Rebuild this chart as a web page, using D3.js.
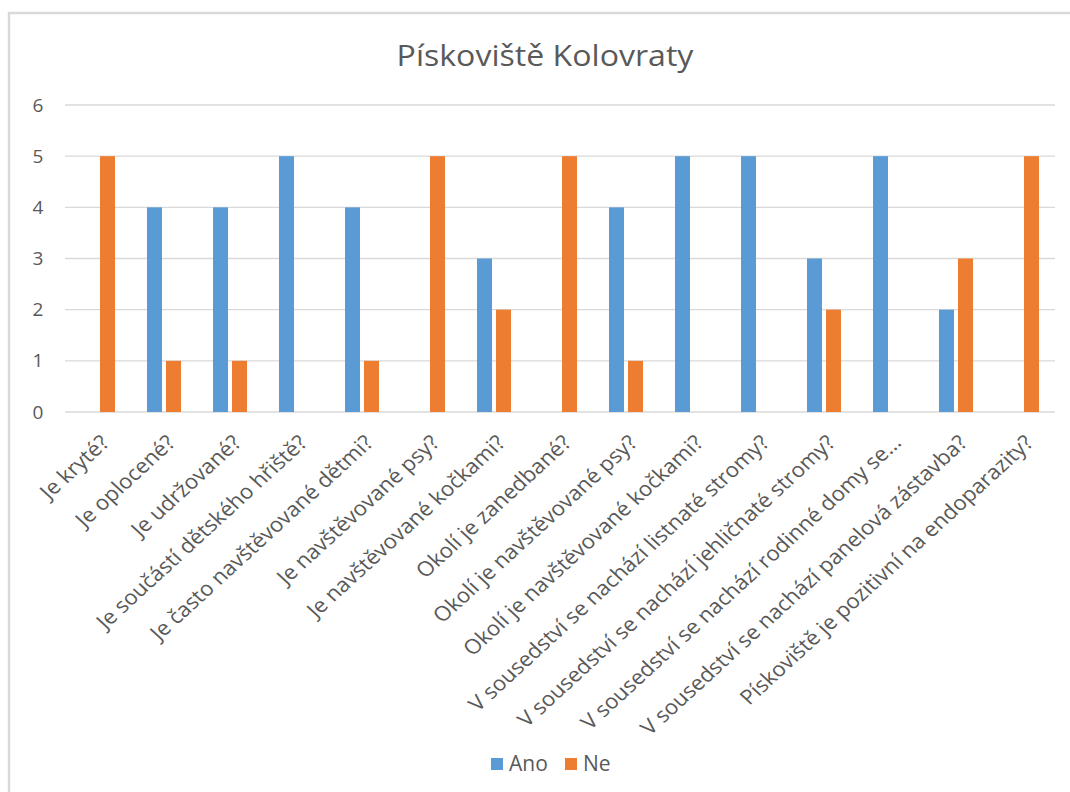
<!DOCTYPE html>
<html><head><meta charset="utf-8">
<script src="https://cdn.jsdelivr.net/npm/d3@7"></script>
<style>
body{margin:0;background:#fff;}
text{font-family:"Open Sans",sans-serif;fill:#595959;}
</style></head>
<body><svg id="c" width="1070" height="792"></svg>
<script>
const categories = [
 "Je kryté?","Je oplocené?","Je udržované?","Je součástí dětského hřiště?",
 "Je často navštěvované dětmi?","Je navštěvované psy?","Je navštěvované kočkami?",
 "Okolí je zanedbané?","Okolí je navštěvované psy?","Okolí je navštěvované kočkami?",
 "V sousedství se nachází listnaté stromy?","V sousedství se nachází jehličnaté stromy?",
 "V sousedství se nachází rodinné domy se…","V sousedství se nachází panelová zástavba?",
 "Pískoviště je pozitivní na endoparazity?"];
const ano = [0,4,4,5,4,0,3,0,4,5,5,3,5,2,0];
const ne  = [5,1,1,0,1,5,2,5,1,0,0,2,0,3,5];
const seriesNames = ["Ano","Ne"];
const colors = ["#5B9BD5","#ED7D31"];
const yTicks = [0,1,2,3,4,5,6];
const title = "Pískoviště Kolovraty";

const svg = d3.select("#c");
svg.append("path").attr("d","M9,792 V13 H1070").attr("fill","none")
  .attr("stroke","#D9D9D9").attr("stroke-width",2.5);

const L=65,R=1055,T=105,B=412;
const y = d3.scaleLinear().domain([0,6]).range([B,T]);
const x0 = d3.scaleBand().domain(categories).range([L,R]).paddingInner(0.485).paddingOuter(0.2425);
const x1 = d3.scaleBand().domain(seriesNames).range([0,x0.bandwidth()]).paddingInner(0.21);

svg.append("g").selectAll("line").data(yTicks).join("line")
  .attr("x1",L).attr("x2",R).attr("y1",d=>y(d)).attr("y2",d=>y(d))
  .attr("stroke","#D9D9D9").attr("stroke-width",1.3);

svg.append("g").selectAll("text").data(yTicks).join("text")
  .attr("x",38).attr("y",d=>y(d)).attr("dy","0.35em").attr("text-anchor","middle")
  .style("font-size","19px").text(d=>d);

const data = categories.map((c,i)=>({c, vals:[ano[i],ne[i]]}));
const g = svg.append("g");
data.forEach(d=>{
  seriesNames.forEach((s,j)=>{
    const v=d.vals[j];
    if(v>0) g.append("rect").attr("x",x0(d.c)+x1(s)).attr("width",x1.bandwidth())
      .attr("y",y(v)).attr("height",y(0)-y(v)).attr("fill",colors[j]);
  });
});

svg.append("g").selectAll("text").data(categories).join("text")
  .attr("transform",d=>`translate(${x0(d)+x0.bandwidth()/2+7},${B+27}) scale(1.09,1) rotate(-45)`)
  .attr("text-anchor","end").attr("dy","0.35em")
  .style("font-size","20.5px").text(d=>d);

svg.append("text").attr("transform","translate(545,66) scale(1.07,1)").attr("text-anchor","middle")
  .style("font-size","30px").text(title);

const lg = svg.append("g");
const lx=[491,565];
seriesNames.forEach((s,j)=>{
  lg.append("rect").attr("x",lx[j]).attr("y",758).attr("width",12).attr("height",12).attr("fill",colors[j]);
  lg.append("text").attr("x",lx[j]+18).attr("y",764).attr("dy","0.35em").style("font-size","21px").text(s);
});
</script></body></html>
